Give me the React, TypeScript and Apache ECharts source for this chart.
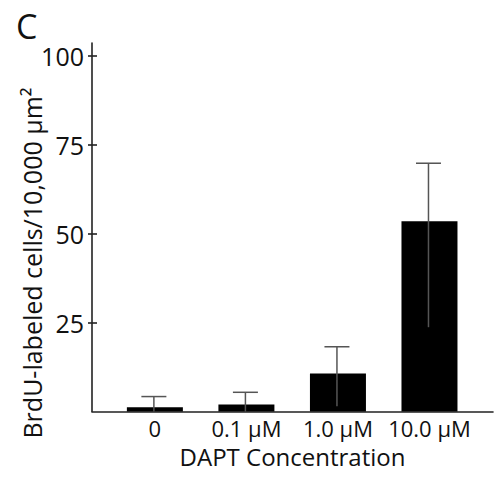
import React, { useEffect, useRef } from "react";
import * as echarts from "echarts";

const categories = ["0", "0.1 μM", "1.0 μM", "10.0 μM"];
const means = [1.2, 2.0, 10.7, 53.5];
const errLow = [0, 0, 1.5, 23.7];
const errHigh = [4.2, 5.4, 18.2, 69.8];
const yTicks = [25, 50, 75, 100];

const FONT = "'Open Sans', 'Noto Sans', sans-serif";

export default function App() {
  const ref = useRef<HTMLDivElement>(null);
  useEffect(() => {
    if (!ref.current) return;
    const chart = echarts.init(ref.current, undefined, { renderer: "svg" });
    const xMin = -0.687;
    const xMax = 3.694;
    const yMax = 103.6;
    chart.setOption({
      animation: false,
      backgroundColor: "#fff",
      grid: { left: 92, right: 2, top: 43, bottom: 68.5, containLabel: false },
      xAxis: {
        type: "value",
        min: xMin,
        max: xMax,
        axisLine: { show: true, onZero: false, lineStyle: { color: "#222", width: 1.6 } },
        axisTick: { show: false },
        splitLine: { show: false },
        axisLabel: {
          customValues: [0, 1, 2, 3],
          formatter: (v: number) => categories[Math.round(v)] ?? "",
          color: "#111",
          fontFamily: FONT,
          fontSize: 22,
          margin: 5,
        },
        name: "DAPT Concentration",
        nameLocation: "middle",
        nameGap: 33,
        nameTextStyle: { color: "#111", fontFamily: FONT, fontSize: 24 },
      },
      yAxis: [
        {
          type: "value",
          min: 0,
          max: yMax,
          axisLine: { show: true, onZero: false, lineStyle: { color: "#222", width: 1.6 } },
          axisTick: { show: true, customValues: yTicks, length: 4, lineStyle: { color: "#222", width: 1.6 } },
          axisLabel: { customValues: yTicks, color: "#111", fontFamily: FONT, fontSize: 25, margin: 8 },
          splitLine: { show: false },
        },
        {
          type: "value",
          min: 0,
          max: yMax,
          position: "left",
          axisLine: { show: false, onZero: false },
          axisTick: { show: true, inside: true, customValues: yTicks, length: 5, lineStyle: { color: "#222", width: 1.6 } },
          axisLabel: { show: false },
          splitLine: { show: false },
        },
      ],
      series: [
        {
          type: "bar",
          yAxisIndex: 0,
          barWidth: 56,
          itemStyle: { color: "#000" },
          data: means.map((m, i) => [i, m]),
          z: 2,
        },
        {
          type: "custom",
          yAxisIndex: 0,
          z: 3,
          data: means.map((_, i) => [i, errLow[i], errHigh[i]]),
          renderItem: (params: any, api: any) => {
            const x = api.value(0);
            const lo = api.coord([x, api.value(1)]);
            const hi = api.coord([x, api.value(2)]);
            const half = 12.5;
            const style = { stroke: "#555", lineWidth: 1.5 };
            return {
              type: "group",
              children: [
                { type: "line", shape: { x1: hi[0] - 1, y1: lo[1], x2: hi[0] - 1, y2: hi[1] }, style },
                { type: "line", shape: { x1: hi[0] - 1 - half, y1: hi[1], x2: hi[0] - 1 + half, y2: hi[1] }, style },
              ],
            };
          },
        },
      ],
      graphic: [
        {
          type: "text",
          left: 16,
          top: 9,
          style: { text: "C", fontFamily: FONT, fontSize: 34, fill: "#111" },
        },
        {
          type: "text",
          x: 32,
          y: 263,
          rotation: Math.PI / 2,
          style: {
            text: "BrdU-labeled cells/10,000 μm²",
            fontFamily: FONT,
            fontSize: 25,
            fill: "#111",
            align: "center",
            verticalAlign: "middle",
          },
        },
      ],
    });
    return () => chart.dispose();
  }, []);
  return (
    <div
      ref={ref}
      style={{ position: "fixed", left: 0, top: 0, width: 495, height: 480, background: "#fff" }}
    />
  );
}
